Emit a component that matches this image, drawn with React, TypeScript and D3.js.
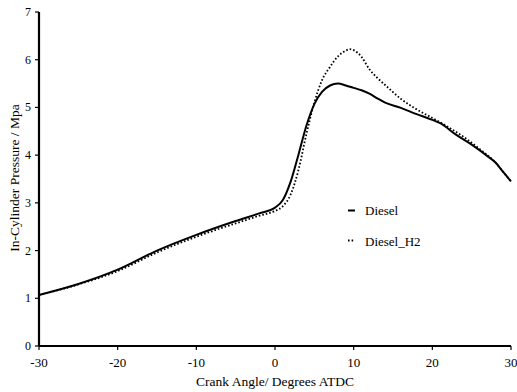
import React from "react";
import * as d3 from "d3";

const crankAngle = [-30, -25, -20, -15, -10, -5, -2, 0, 1, 2, 3, 4, 5, 6, 7, 8, 9, 10, 11, 12, 13, 14, 16, 18, 20, 21, 23, 25, 27, 28, 29, 30];
const diesel = [1.07, 1.30, 1.60, 2.00, 2.33, 2.62, 2.78, 2.90, 3.06, 3.45, 4.02, 4.62, 5.07, 5.33, 5.46, 5.50, 5.46, 5.41, 5.36, 5.29, 5.19, 5.10, 4.99, 4.86, 4.74, 4.67, 4.43, 4.22, 3.98, 3.85, 3.65, 3.45];

const crankAngleH2 = [-30, -25, -20, -15, -10, -5, -2, 0, 1, 2, 3, 4, 5, 6, 7, 8, 9, 9.5, 10, 11, 12, 13, 14, 16, 18, 20, 22, 24, 26, 28, 29, 30];
const dieselH2 = [1.07, 1.29, 1.57, 1.96, 2.29, 2.57, 2.73, 2.83, 2.93, 3.18, 3.70, 4.45, 5.10, 5.58, 5.85, 6.07, 6.19, 6.22, 6.20, 6.06, 5.80, 5.62, 5.47, 5.18, 4.96, 4.78, 4.59, 4.38, 4.13, 3.85, 3.65, 3.45];

const xTicks = [-30, -20, -10, 0, 10, 20, 30];
const yTicks = [0, 1, 2, 3, 4, 5, 6, 7];
const seriesNames = ["Diesel", "Diesel_H2"];

const W = 517;
const H = 392;
const FONT = "Liberation Serif";

export default function App() {
  const x = d3.scaleLinear().domain([-30, 30]).range([39, 511]);
  const y = d3.scaleLinear().domain([0, 7]).range([346, 12]);
  const line = d3
    .line<[number, number]>()
    .x((d) => x(d[0]))
    .y((d) => y(d[1]))
    .curve(d3.curveMonotoneX);
  const d1 = line(crankAngle.map((a, i) => [a, diesel[i]] as [number, number])) || "";
  const d2 = line(crankAngleH2.map((a, i) => [a, dieselH2[i]] as [number, number])) || "";
  const ts = { fontFamily: FONT };

  return (
    <svg width={W} height={H} style={{ position: "absolute", left: 0, top: 0, background: "#fff" }}>
      <path d={d2} fill="none" stroke="#000" strokeWidth={1.8} strokeDasharray="1.6,2" />
      <path d={d1} fill="none" stroke="#000" strokeWidth={2} />

      <line x1={x(-30)} x2={x(-30)} y1={y(7)} y2={y(0)} stroke="#000" strokeWidth={2.2} />
      <line x1={x(-30)} x2={x(30)} y1={y(0)} y2={y(0)} stroke="#000" strokeWidth={2.2} />

      {yTicks.map((t) => (
        <g key={"y" + t}>
          <line x1={x(-30) - 4} x2={x(-30)} y1={y(t)} y2={y(t)} stroke="#000" strokeWidth={1.2} />
          <text x={x(-30) - 8} y={y(t) + 4} textAnchor="end" fontSize={12} fill="#000" style={ts}>
            {t}
          </text>
        </g>
      ))}
      {xTicks.map((t) => (
        <g key={"x" + t}>
          <line x1={x(t)} x2={x(t)} y1={y(0)} y2={y(0) + 4} stroke="#000" strokeWidth={1.2} />
          <text x={x(t)} y={367} textAnchor="middle" fontSize={13} fill="#000" style={ts}>
            {t}
          </text>
        </g>
      ))}

      <text x={275} y={386} textAnchor="middle" fontSize={13.5} fill="#000" style={ts}>
        Crank Angle/ Degrees ATDC
      </text>
      <text transform="translate(19,178) rotate(-90)" textAnchor="middle" fontSize={13.5} fill="#000" style={ts}>
        In-Cylinder Pressure / Mpa
      </text>

      <line x1={348} x2={355} y1={210.5} y2={210.5} stroke="#000" strokeWidth={2} />
      <text x={365} y={215} fontSize={13} fill="#000" style={ts}>{seriesNames[0]}</text>
      <line x1={348} x2={355} y1={240.5} y2={240.5} stroke="#000" strokeWidth={1.8} strokeDasharray="1.6,2" />
      <text x={365} y={245.5} fontSize={13} fill="#000" style={ts}>{seriesNames[1]}</text>
    </svg>
  );
}
